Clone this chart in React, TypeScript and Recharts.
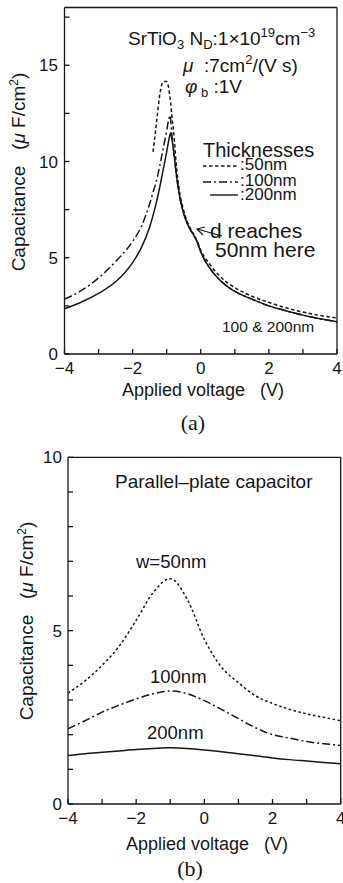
import React from 'react';
import { LineChart, Line, XAxis, YAxis } from 'recharts';

const FONT = '"Liberation Sans", Arial, Helvetica, sans-serif';
const SERIF = '"Liberation Serif", "Times New Roman", serif';
const INK = '#161616';
const SP = '\u00a0';

// (a) C-V of the junction, three film thicknesses
const voltsA = [-4, -3.5, -3, -2.5, -2, -1.75, -1.5, -1.4, -1.3, -1.2, -1.1, -1.0, -0.95, -0.9, -0.88, -0.85, -0.8, -0.7, -0.6, -0.5, -0.4, -0.3, -0.2, -0.1, 0, 0.25, 0.5, 0.75, 1, 1.5, 2, 2.5, 3, 3.5, 4];
const cap200A = [2.35, 2.7, 3.15, 3.75, 4.75, 5.5, 6.6, 7.2, 7.9, 8.7, 9.6, 10.5, 11.0, 11.4, 11.5, 11.2, 10.6, 9.1, 8.0, 7.3, 6.8, 6.45, 6.15, 5.8, 5.3, 4.5, 3.95, 3.55, 3.25, 2.85, 2.5, 2.25, 2.02, 1.83, 1.68];
const cap100A = [2.85, 3.3, 3.95, 4.8, 5.85, 6.6, 7.8, 8.4, 9.0, 9.8, 10.7, 11.6, 12.1, 12.4, 12.1, 11.4, 10.6, 9.1, 8.0, 7.3, 6.8, 6.45, 6.15, 5.8, 5.3, 4.5, 3.95, 3.55, 3.25, 2.85, 2.5, 2.25, 2.02, 1.83, 1.68];
const cap50A = [null, null, null, null, null, null, null, 10.5, 12.0, 13.5, 14.15, 14.15, 13.9, 13.3, 13.0, 12.4, 11.6, 9.5, 8.2, 7.45, 6.9, 6.5, 6.2, 5.85, 5.4, 4.7, 4.15, 3.75, 3.45, 3.0, 2.68, 2.4, 2.18, 2.0, 1.87];

// (b) parallel-plate capacitor
const voltsB = [-4, -3.5, -3, -2.5, -2, -1.5, -1, -0.5, 0, 0.5, 1, 1.5, 2, 2.5, 3, 3.5, 4];
const cap50B = [3.2, 3.55, 4.0, 4.55, 5.3, 6.1, 6.5, 5.9, 4.75, 3.95, 3.5, 3.12, 2.9, 2.73, 2.6, 2.5, 2.4];
const cap100B = [2.17, 2.4, 2.65, 2.85, 3.03, 3.18, 3.26, 3.18, 2.98, 2.73, 2.46, 2.2, 2.0, 1.9, 1.8, 1.74, 1.69];
const cap200B = [1.4, 1.45, 1.49, 1.53, 1.57, 1.6, 1.62, 1.6, 1.56, 1.51, 1.45, 1.39, 1.33, 1.28, 1.24, 1.2, 1.16];

const xTicks = [-4, -3, -2, -1, 0, 1, 2, 3, 4];
const xTickLabels = [-4, -2, 0, 2, 4];
const yTicksA = [0, 2.5, 5, 7.5, 10, 12.5, 15, 17.5];
const yTickLabelsA = [0, 5, 10, 15];
const yTicksB = [0, 1, 2, 3, 4, 5, 6, 7, 8, 9, 10];
const yTickLabelsB = [0, 5, 10];

const rowsA = voltsA.map((v, i) => ({ v, c200: cap200A[i], c100: cap100A[i], c50: cap50A[i] }));
const rowsB = voltsB.map((v, i) => ({ v, c200: cap200B[i], c100: cap100B[i], c50: cap50B[i] }));

const only = (list: number[]) => (v: number) => (list.includes(v) ? String(v).replace('-', '\u2212') : '');
const tickFont = { fill: INK, fontSize: 17, fontFamily: FONT };
const axisLine = { stroke: INK, strokeWidth: 1.3 };
const tickLine = { stroke: INK, strokeWidth: 1.3 };

const DASHDOT = '8 3 2 3';

function frame(yMax: number, yTicks: number[], yLabels: number[], leftW: number, yMargin: number) {
  return [
    <XAxis key="xb" type="number" dataKey="v" domain={[-4, 4]} ticks={xTicks} tickFormatter={only(xTickLabels)}
      height={26} tickSize={-5} tickMargin={13} tick={tickFont} axisLine={axisLine} tickLine={tickLine} interval={0} allowDataOverflow />,
    <XAxis key="xt" xAxisId="top" orientation="top" type="number" dataKey="v" domain={[-4, 4]} ticks={xTicks}
      height={1} tickSize={-5} tick={false} axisLine={axisLine} tickLine={tickLine} interval={0} />,
    <YAxis key="yl" type="number" domain={[0, yMax]} ticks={yTicks} tickFormatter={only(yLabels)} width={leftW}
      tickSize={-5} tickMargin={yMargin} tick={tickFont} axisLine={axisLine} tickLine={tickLine} interval={0} allowDataOverflow />,
    <YAxis key="yr" yAxisId="r" orientation="right" type="number" domain={[0, yMax]} ticks={yTicks} width={1}
      tickSize={-5} tick={false} axisLine={axisLine} tickLine={tickLine} interval={0} />,
  ];
}

function series() {
  return [
    <Line key="c200" dataKey="c200" type="monotone" stroke={INK} strokeWidth={1.5} dot={false} isAnimationActive={false} />,
    <Line key="c100" dataKey="c100" type="monotone" stroke={INK} strokeWidth={1.5} strokeDasharray={DASHDOT} dot={false} isAnimationActive={false} />,
  ];
}

const t = { fontFamily: FONT, fill: INK } as const;

function YTitle({ x, y }: { x: number; y: number }) {
  return (
    <text {...t} x={x} y={y} fontSize={19} textAnchor="middle" transform={`rotate(-90 ${x} ${y})`}>
      {`Capacitance${SP}${SP}${SP}(`}<tspan fontStyle="italic">μ</tspan>{` F/cm`}
      <tspan fontSize={12} dy={-7}>2</tspan><tspan dy={7}>)</tspan>
    </text>
  );
}

export default function App() {
  return (
    <div style={{ position: 'absolute', left: 0, top: 0, width: 343, height: 883, background: '#fff' }}>
      <div style={{ position: 'absolute', left: 0, top: 0 }}>
        <LineChart width={343} height={380} data={rowsA} margin={{ top: 6.5, right: 5, bottom: 0, left: 0 }}>
          {frame(18, yTicksA, yTickLabelsA, 64.5, 11.5)}
          {series()}
          <Line dataKey="c50" type="monotone" stroke={INK} strokeWidth={1.5} strokeDasharray="3.5 2.5" dot={false} isAnimationActive={false} />
        </LineChart>
      </div>
      <div style={{ position: 'absolute', left: 0, top: 440 }}>
        <LineChart width={343} height={390} data={rowsB} margin={{ top: 16.3, right: 1.3, bottom: 0, left: 0 }}>
          {frame(10, yTicksB, yTickLabelsB, 68, 11)}
          {series()}
          <Line dataKey="c50" type="monotone" stroke={INK} strokeWidth={1.5} strokeDasharray="2.5 2.5" dot={false} isAnimationActive={false} />
        </LineChart>
      </div>

      <svg width={343} height={883} style={{ position: 'absolute', left: 0, top: 0, pointerEvents: 'none' }}>
        {/* panel (a) */}
        <YTitle x={25} y={172} />
        <text {...t} x={128} y={45} fontSize={19}>
          SrTiO<tspan fontSize={13} dy={4}>3</tspan><tspan dy={-4}>{`${SP}N`}</tspan><tspan fontSize={13} dy={4}>D</tspan>
          <tspan dy={-4}>:1×10</tspan><tspan fontSize={13} dy={-8}>19</tspan><tspan dy={8}>cm</tspan>
          <tspan fontSize={13} dy={-8}>−3</tspan>
        </text>
        <text {...t} x={183} y={72} fontSize={19}>
          <tspan fontStyle="italic">μ</tspan>{`${SP}${SP}:7cm`}<tspan fontSize={13} dy={-8}>2</tspan>
          <tspan dy={8}>{`/(V${SP}s)`}</tspan>
        </text>
        <text {...t} x={185} y={93} fontSize={19}>
          <tspan fontStyle="italic">φ</tspan><tspan fontSize={13} dy={4}>{`${SP}b`}</tspan><tspan dy={-4}>{`${SP}:1V`}</tspan>
        </text>
        <text {...t} x={203} y={157} fontSize={20}>Thicknesses</text>
        <line x1={203} y1={166} x2={238} y2={166} stroke={INK} strokeWidth={1.4} strokeDasharray="3.5 2.5" />
        <line x1={203} y1={182} x2={238} y2={182} stroke={INK} strokeWidth={1.4} strokeDasharray={DASHDOT} />
        <line x1={210} y1={195} x2={238} y2={195} stroke={INK} strokeWidth={1.4} />
        <text {...t} x={240} y={170} fontSize={17}>:50nm</text>
        <text {...t} x={240} y={186} fontSize={17}>:100nm</text>
        <text {...t} x={240} y={200} fontSize={17}>:200nm</text>
        <text {...t} x={210} y={238} fontSize={21}>d reaches</text>
        <text {...t} x={215} y={257} fontSize={21}>50nm here</text>
        <line x1={222} y1={236} x2={197} y2={229} stroke={INK} strokeWidth={1.2} />
        <path d="M205 227 L197 229 L203 235" fill="none" stroke={INK} strokeWidth={1.2} />
        <text {...t} x={222} y={332} fontSize={15.5}>100 &amp; 200nm</text>
        <text {...t} x={203} y={396} fontSize={18} textAnchor="middle">{`Applied voltage${SP}${SP}${SP}(V)`}</text>
        <text x={193} y={430} fontSize={22} fontFamily={SERIF} fill={INK} textAnchor="middle">(a)</text>

        {/* panel (b) */}
        <YTitle x={33} y={621} />
        <text {...t} x={115} y={488} fontSize={19}>Parallel–plate capacitor</text>
        <text {...t} x={136} y={568} fontSize={18.5}>w=50nm</text>
        <text {...t} x={150} y={683} fontSize={18.5}>100nm</text>
        <text {...t} x={147} y={739} fontSize={18.5}>200nm</text>
        <text {...t} x={207} y={850} fontSize={18} textAnchor="middle">{`Applied voltage${SP}${SP}${SP}(V)`}</text>
        <text x={190} y={876} fontSize={22} fontFamily={SERIF} fill={INK} textAnchor="middle">(b)</text>
      </svg>
    </div>
  );
}
